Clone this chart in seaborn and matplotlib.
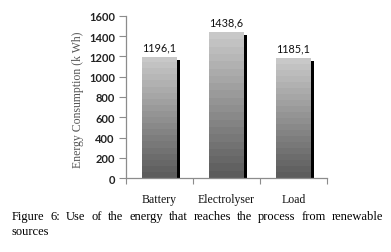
import numpy as np
import matplotlib
matplotlib.use("Agg")
import matplotlib.pyplot as plt
import matplotlib.transforms as mtransforms
from matplotlib.patches import Rectangle
import seaborn as sns
import pandas as pd

categories = ["Battery", "Electrolyser", "Load"]
values = [1196.1, 1438.6, 1185.1]
value_labels = ["1196,1", "1438,6", "1185,1"]
yticks = [0, 200, 400, 600, 800, 1000, 1200, 1400, 1600]
caption_line1 = "Figure 6: Use of the energy that reaches the process from renewable"
caption_line2 = "sources"

sns.set_theme(style="white")
plt.rcParams['font.family'] = ['DejaVu Sans']

fig = plt.figure(figsize=(3.91, 2.53), dpi=100)
ax = fig.add_axes([126/391, 1-179/253, (327-126)/391, (179-17)/253])

df = pd.DataFrame({"cat": categories, "val": values})
sns.barplot(data=df, x="cat", y="val", ax=ax, width=0.52, color="#aaaaaa", edgecolor="none", linewidth=0)

ax.set_ylim(0, 1600)
ax.set_xlim(-0.5, 2.5)

# gradient and shadow
nb = 20
grad = np.linspace(0, 1, nb).reshape(-1, 1)
cmap = matplotlib.colors.LinearSegmentedColormap.from_list("g", ["#5c5c5c", "#c8c8c8"])
shadow_tr = mtransforms.offset_copy(ax.transData, fig=fig, x=3, y=-3, units='dots')
for p, lab in zip(ax.patches, value_labels):
    x0, y0 = p.get_x(), p.get_y()
    w, h = p.get_width(), p.get_height()
    sh = Rectangle((x0, y0), w, h, transform=shadow_tr, facecolor="black", edgecolor="none", zorder=1)
    ax.add_patch(sh)
    sh.set_clip_path(ax.patch)
    p.set_zorder(2)
    im = ax.imshow(grad, extent=[x0, x0 + w, y0, y0 + h], origin="lower", cmap=cmap,
                   aspect="auto", interpolation="nearest", zorder=3)
    im.set_clip_path(p)
    ax.text(x0 + w/2, y0 + h + 100, lab, ha="center", va="center", fontsize=7.8,
            family="Lato", color="#111111")

ax.set_xlim(-0.5, 2.5)
ax.set_ylim(0, 1600)

for s in ["top", "right"]:
    ax.spines[s].set_visible(False)
for s in ["left", "bottom"]:
    ax.spines[s].set_color("#8c8c8c")
    ax.spines[s].set_linewidth(0.9)
    ax.spines[s].set_zorder(5)

ax.set_yticks(yticks)
ax.set_yticklabels([str(t) for t in yticks], family="Lato", fontsize=8, fontweight="bold", color="#222222")
ax.tick_params(axis="y", left=True, length=5, width=0.8, color="#8c8c8c", pad=3, direction="out")

ax.set_xticks([0, 1, 2])
ax.set_xticklabels(categories, family="Liberation Serif", fontsize=8.5, color="#111111")
ax.tick_params(axis="x", which="major", bottom=False, pad=5)
ax.set_xticks([-0.5, 0.5, 1.5, 2.5], minor=True)
ax.tick_params(axis="x", which="minor", bottom=True, length=4, width=0.8, color="#8c8c8c", direction="out")

ax.set_xlabel("")
ax.set_ylabel("Energy Consumption (k Wh)", family="Liberation Serif", fontsize=8.5, color="#555555")
ax.yaxis.label.set_va("center")
ax.yaxis.set_label_coords((78 - 126) / (327 - 126), (179 - 100) / (179 - 17))

# justified caption
fig.canvas.draw()
renderer = fig.canvas.get_renderer()
words = caption_line1.split(" ")
left_px, right_px = 12, 383
y1 = 1 - 217/253
texts = []
widths = []
for wd in words:
    t = fig.text(0, y1, wd, family="Liberation Serif", fontsize=9, color="black", va="center", ha="left")
    bb = t.get_window_extent(renderer)
    texts.append(t)
    widths.append(bb.width)
gap = (right_px - left_px - sum(widths)) / (len(words) - 1)
xpos = left_px
for t, wdt in zip(texts, widths):
    t.set_x(xpos / 391)
    xpos += wdt + gap
fig.text(left_px/391, 1 - 232/253, caption_line2, family="Liberation Serif", fontsize=9, color="black", va="center", ha="left")

fig.savefig("out.png", dpi=100)
